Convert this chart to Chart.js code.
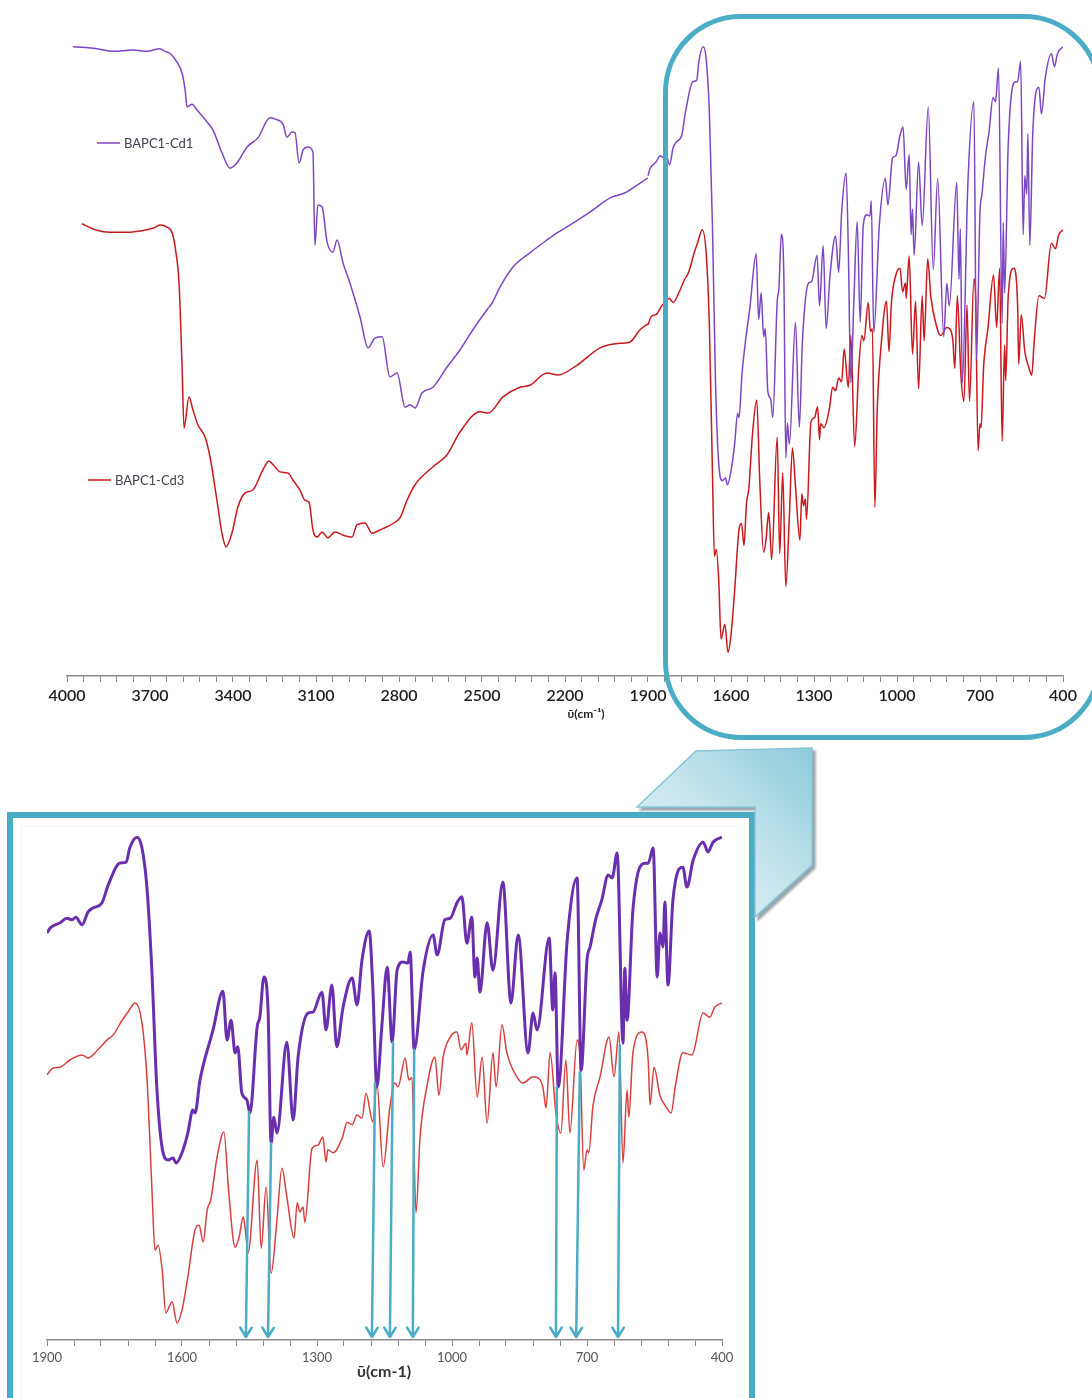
<!DOCTYPE html>
<html>
<head>
<meta charset="utf-8">
<title>FT-IR BAPC1-Cd1 / BAPC1-Cd3</title>
<script src="https://cdn.jsdelivr.net/npm/chart.js@4.4.1/dist/chart.umd.min.js"></script>
<style>
  html, body { margin: 0; padding: 0; background: #fff; }
  body { width: 1092px; height: 1398px; position: relative; overflow: hidden; }
  #fullCanvas { position: absolute; left: 0; top: 0; }
  #zoomCanvas { position: absolute; left: 0; top: 800px; }
  .ring {
    position: absolute; left: 663px; top: 14px; width: 439px; height: 726px;
    box-sizing: border-box; border: 5px solid #4bacc6; border-radius: 78px;
  }
  .frame {
    position: absolute; left: 7px; top: 812px; width: 748px; height: 640px;
    box-sizing: border-box; border: 6px solid #4bacc6;
  }
  .frame .inner {
    position: absolute; left: 8px; top: 8px; right: 8px; bottom: 8px;
    border: 1px solid rgba(0, 0, 0, 0.04);
  }
  svg.callout { position: absolute; left: 0; top: 0; pointer-events: none; }
</style>
</head>
<body>
<canvas id="fullCanvas" width="1092" height="740"></canvas>
<canvas id="zoomCanvas" width="760" height="598"></canvas>
<div class="ring"></div>
<div class="frame"><div class="inner"></div></div>
<svg class="callout" width="1092" height="1398">
  <defs>
    <linearGradient id="calloutFill" x1="0" y1="1" x2="1" y2="0">
      <stop offset="0" stop-color="#eef7fa"/>
      <stop offset="0.55" stop-color="#c4e4ed"/>
      <stop offset="1" stop-color="#8ecadb"/>
    </linearGradient>
    <filter id="calloutShadow" x="-10%" y="-10%" width="130%" height="130%">
      <feDropShadow dx="3" dy="3" stdDeviation="1" flood-color="#7f8f96" flood-opacity="0.8"/>
    </filter>
  </defs>
  <polygon points="637,807 696,751 812,748 812,865 755,917 755,807"
           fill="url(#calloutFill)" stroke="#86c6d6" stroke-width="1.5" filter="url(#calloutShadow)"/>
</svg>

<script>
// series names
const seriesNames = ['BAPC1-Cd1', 'BAPC1-Cd3'];

// axis labels (cm-1)
const fullTickLabels = [4000, 3700, 3400, 3100, 2800, 2500, 2200, 1900, 1600, 1300, 1000, 700, 400];
const zoomTickLabels = [1900, 1600, 1300, 1000, 700, 400];

// 4000-1900 cm-1 part of the full spectra, [wavenumber, %T]
const cd1High = [
  [3978, 97.4], [3892, 97.1], [3834, 96.7], [3761, 96.9], [3711, 96.7], [3664, 97.1], [3646, 96.7],
  [3628, 96.4], [3602, 95.0], [3584, 93.3], [3573, 90.7], [3566, 88.1], [3548, 88.5], [3530, 87.6],
  [3494, 85.8], [3472, 84.5], [3440, 81.0], [3411, 78.6], [3386, 79.4], [3349, 81.9], [3310, 83.3],
  [3266, 86.4], [3248, 86.2], [3219, 85.4], [3205, 83.4], [3187, 84.2], [3176, 84.1], [3161, 79.4],
  [3147, 81.4], [3129, 81.9], [3111, 81.1], [3104, 66.7], [3093, 72.9], [3078, 72.6], [3060, 67.2],
  [3039, 65.6], [3024, 67.5], [3002, 63.9], [2977, 60.8], [2941, 55.6], [2912, 50.8], [2887, 52.3],
  [2861, 52.5], [2833, 46.3], [2807, 46.9], [2778, 41.6], [2760, 42.0], [2742, 41.5], [2717, 43.8],
  [2677, 44.7], [2627, 47.8], [2579, 50.5], [2533, 53.6], [2482, 56.7], [2464, 57.7], [2435, 60.2],
  [2388, 63.3], [2327, 65.5], [2265, 67.5], [2229, 68.6], [2171, 70.1], [2110, 71.8], [2037, 74.0],
  [1983, 74.8], [1929, 76.3], [1900, 77.1]
];
const cd3High = [
  [3946, 70.0], [3892, 69.0], [3845, 68.7], [3783, 68.7], [3736, 68.9], [3689, 69.3], [3664, 69.8],
  [3639, 69.5], [3620, 68.6], [3606, 65.5], [3595, 60.8], [3584, 47.8], [3577, 38.4], [3559, 43.2],
  [3545, 41.2], [3527, 38.9], [3501, 37.0], [3483, 33.9], [3458, 27.2], [3440, 22.1], [3425, 20.0],
  [3404, 22.1], [3382, 26.2], [3357, 28.3], [3328, 28.8], [3292, 31.9], [3270, 33.3], [3255, 32.7],
  [3230, 31.6], [3201, 31.4], [3183, 30.3], [3158, 28.8], [3140, 27.2], [3125, 26.9], [3111, 22.6],
  [3096, 21.5], [3078, 22.3], [3057, 21.4], [3031, 22.3], [3002, 21.8], [2970, 21.5], [2952, 23.4],
  [2923, 23.7], [2898, 22.1], [2869, 22.6], [2843, 23.1], [2814, 23.8], [2796, 24.5], [2771, 27.2],
  [2742, 29.6], [2677, 32.4], [2627, 34.2], [2579, 37.8], [2507, 40.9], [2478, 40.7], [2424, 43.2],
  [2363, 44.7], [2327, 45.0], [2265, 46.9], [2225, 46.6], [2157, 48.1], [2073, 50.8], [2001, 51.5],
  [1965, 51.7], [1929, 53.6], [1900, 54.5]
];

// 1900-400 cm-1 fingerprint region, [wavenumber, %T]
const cd1Fp = [
  [1900, 79.8], [1893, 80.8], [1871, 81.8], [1856, 82.7], [1844, 82.4], [1836, 82.9], [1822, 81.4],
  [1809, 83.9], [1798, 84.7], [1778, 85.7], [1764, 89.2], [1738, 93.5], [1724, 93.7], [1716, 96.5],
  [1700, 98.6], [1689, 96.5], [1678, 88.8], [1667, 72.5], [1656, 49.6], [1642, 36.7], [1631, 35.3],
  [1620, 35.7], [1613, 34.7], [1600, 36.7], [1587, 40.6], [1576, 45.1], [1571, 44.5], [1560, 51.0],
  [1531, 60.8], [1509, 68.4], [1500, 58.8], [1491, 62.7], [1482, 56.3], [1476, 57.5], [1467, 48.4],
  [1456, 47.1], [1449, 44.5], [1433, 61.4], [1427, 63.3], [1418, 71.2], [1409, 65.3], [1402, 38.6],
  [1396, 43.7], [1389, 40.6], [1367, 58.4], [1353, 43.1], [1342, 55.5], [1320, 64.1], [1309, 64.3],
  [1289, 68.2], [1280, 60.8], [1267, 69.6], [1256, 57.5], [1242, 65.3], [1222, 71.0], [1211, 65.7],
  [1200, 74.5], [1184, 80.2], [1176, 69.2], [1167, 49.6], [1156, 61.4], [1144, 73.1], [1133, 58.4],
  [1122, 72.5], [1109, 74.1], [1098, 73.9], [1093, 76.1], [1084, 56.9], [1064, 72.5], [1042, 79.4],
  [1033, 75.5], [1016, 82.4], [1004, 82.7], [989, 85.7], [978, 86.9], [967, 77.8], [956, 82.9],
  [949, 71.2], [944, 74.9], [938, 68.2], [922, 81.8], [909, 72.5], [887, 89.8], [869, 66.1],
  [853, 79.4], [831, 56.3], [820, 64.1], [811, 60.8], [784, 78.8], [776, 64.7], [771, 72.0],
  [764, 49.6], [744, 78.4], [722, 90.6], [713, 52.9], [700, 74.5], [693, 77.1], [680, 82.7],
  [667, 86.3], [653, 91.2], [644, 90.6], [633, 95.5], [620, 58.2], [616, 72.9], [611, 62.7],
  [598, 84.3], [571, 93.5], [564, 93.5], [553, 96.5], [544, 71.2], [538, 79.8], [531, 77.1],
  [527, 85.9], [520, 69.6], [509, 86.3], [487, 92.7], [478, 88.8], [464, 94.1], [442, 97.6],
  [431, 95.7], [420, 97.6], [400, 98.6]
];
const cd3Fp = [
  [1900, 52.0], [1887, 53.3], [1871, 53.5], [1849, 54.9], [1822, 55.9], [1809, 55.3], [1787, 56.9],
  [1767, 58.8], [1753, 59.8], [1733, 62.7], [1720, 64.3], [1704, 66.1], [1689, 62.2], [1678, 51.6],
  [1667, 30.0], [1660, 17.6], [1653, 18.6], [1644, 13.7], [1636, 5.3], [1622, 7.5], [1611, 3.3],
  [1600, 5.9], [1587, 12.4], [1571, 21.6], [1562, 22.5], [1553, 19.2], [1544, 25.5], [1536, 27.5],
  [1522, 35.9], [1507, 40.8], [1496, 28.8], [1482, 18.2], [1473, 20.2], [1464, 24.1], [1460, 22.2],
  [1453, 17.1], [1433, 35.3], [1424, 18.0], [1413, 30.0], [1402, 13.1], [1389, 23.5], [1378, 33.7],
  [1367, 28.0], [1351, 20.0], [1344, 26.9], [1338, 25.1], [1331, 26.1], [1327, 23.1], [1311, 37.6],
  [1298, 38.2], [1287, 39.8], [1280, 34.9], [1276, 37.3], [1264, 36.7], [1244, 39.6], [1233, 42.7],
  [1222, 42.2], [1211, 44.1], [1200, 43.5], [1191, 48.4], [1176, 42.7], [1167, 50.4], [1153, 33.9],
  [1138, 45.7], [1127, 50.4], [1120, 49.6], [1104, 55.3], [1096, 51.0], [1089, 51.4], [1080, 24.9],
  [1071, 39.8], [1056, 49.6], [1038, 55.5], [1029, 48.0], [1020, 55.3], [1004, 59.4], [989, 60.4],
  [980, 56.9], [969, 58.2], [967, 55.9], [956, 62.2], [944, 47.6], [933, 55.5], [922, 42.5],
  [909, 56.3], [902, 49.6], [889, 61.8], [878, 56.3], [856, 51.6], [842, 50.4], [820, 51.6],
  [804, 51.0], [798, 49.6], [791, 45.5], [782, 56.3], [769, 44.5], [758, 40.6], [747, 54.9],
  [738, 40.6], [722, 58.8], [716, 56.3], [707, 33.3], [700, 37.3], [696, 36.7], [687, 45.7],
  [671, 51.6], [651, 59.4], [640, 51.6], [629, 60.4], [620, 34.7], [611, 49.0], [607, 43.7],
  [598, 56.3], [578, 60.4], [564, 54.9], [560, 46.1], [551, 53.5], [538, 48.0], [524, 45.7],
  [513, 44.5], [504, 49.6], [487, 56.3], [467, 55.9], [442, 64.1], [427, 63.3], [416, 65.3],
  [400, 66.1]
];

// marked bands: arrow starts on the Cd1 trace and points down to the axis
const bandFromWave = [1451, 1402, 1171, 1131, 1084, 767, 716, 627];
const bandFromT    = [44.7, 38.6, 50.4, 58.4, 56.9, 49.6, 52.5, 57.8];
const bandTipWave  = [1458, 1409, 1178, 1138, 1087, 769, 724, 631];

const PURPLE = '#7d46c3';
const RED = '#c8191e';
const PURPLE_DARK = '#6a2fae';
const RED_LIGHT = '#d8403f';
const TEAL = '#4bacc6';
const FONT = "Lato, 'DejaVu Sans', sans-serif";

const toXY = pts => pts.map(([x, y]) => ({ x, y }));

// tick marks every 60 cm-1, labels only on the 300 cm-1 steps
const tickStep = 60;
function tickMarks(lo, hi) {
  const out = [];
  for (let v = lo; v <= hi; v += tickStep) out.push({ value: v });
  return out;
}

function wavenumberAxis(lo, hi, labels, labelFont, labelColor, axisHeight, labelPad) {
  return {
    type: 'linear', reverse: true, min: lo, max: hi,
    afterBuildTicks: s => { s.ticks = tickMarks(lo, hi); },
    afterFit: s => { s.height = axisHeight; },
    grid: { drawOnChartArea: false, drawTicks: true, tickLength: 6, color: '#8c8c8c', lineWidth: 1 },
    border: { display: true, color: '#8c8c8c', width: 1.5 },
    ticks: {
      autoSkip: false, maxRotation: 0, minRotation: 0, padding: labelPad,
      color: labelColor, font: labelFont,
      callback: v => labels.includes(v) ? String(v) : ''
    }
  };
}

// free text drawn in canvas coordinates (axis captions)
const captions = {
  id: 'captions',
  afterDraw(chart, args, opts) {
    const ctx = chart.ctx;
    ctx.save();
    ctx.textAlign = 'center';
    ctx.textBaseline = 'middle';
    (opts.items || []).forEach(it => {
      ctx.font = it.font;
      ctx.fillStyle = it.color;
      ctx.fillText(it.text, it.x, it.y);
    });
    ctx.restore();
  }
};

// series key placed beside each trace
const seriesKey = {
  id: 'seriesKey',
  afterDraw(chart, args, opts) {
    const ctx = chart.ctx;
    ctx.save();
    ctx.font = opts.font;
    ctx.textBaseline = 'middle';
    ctx.textAlign = 'left';
    (opts.items || []).forEach(it => {
      const ds = chart.data.datasets[it.dataset];
      ctx.strokeStyle = ds.borderColor;
      ctx.lineWidth = 1.5;
      ctx.beginPath();
      ctx.moveTo(it.x, it.y);
      ctx.lineTo(it.x + 23, it.y);
      ctx.stroke();
      ctx.fillStyle = opts.color;
      ctx.fillText(ds.label, it.x + 27, it.y + 0.5);
    });
    ctx.restore();
  }
};

// arrows for the assigned bands
const bandArrows = {
  id: 'bandArrows',
  afterDatasetsDraw(chart, args, opts) {
    const { ctx, scales: { x, y } } = chart;
    ctx.save();
    ctx.strokeStyle = opts.color;
    ctx.lineWidth = 2.5;
    ctx.lineCap = 'round';
    ctx.lineJoin = 'round';
    bandTipWave.forEach((w, i) => {
      const x0 = x.getPixelForValue(bandFromWave[i]);
      const y0 = y.getPixelForValue(bandFromT[i]);
      const x1 = x.getPixelForValue(w);
      const y1 = y.getPixelForValue(0) - 3;
      const a = Math.atan2(y1 - y0, x1 - x0);
      const len = 11, spread = 0.55;
      ctx.beginPath();
      ctx.moveTo(x0, y0);
      ctx.lineTo(x1, y1);
      ctx.moveTo(x1 - len * Math.cos(a - spread), y1 - len * Math.sin(a - spread));
      ctx.lineTo(x1, y1);
      ctx.lineTo(x1 - len * Math.cos(a + spread), y1 - len * Math.sin(a + spread));
      ctx.stroke();
    });
    ctx.restore();
  }
};

const lineStyle = (color, width) => ({
  borderColor: color, borderWidth: width, pointRadius: 0, fill: false,
  cubicInterpolationMode: 'monotone'
});

// full range spectra, 4000-400 cm-1
new Chart(document.getElementById('fullCanvas'), {
  type: 'line',
  data: {
    datasets: [
      { label: seriesNames[0], data: toXY(cd1High), yAxisID: 'y', ...lineStyle(PURPLE, 1.5) },
      { label: seriesNames[0], data: toXY(cd1Fp), yAxisID: 'yCd1', ...lineStyle(PURPLE, 1.5) },
      { label: seriesNames[1], data: toXY(cd3High), yAxisID: 'y', ...lineStyle(RED, 1.5) },
      { label: seriesNames[1], data: toXY(cd3Fp), yAxisID: 'yCd3', ...lineStyle(RED, 1.5) }
    ]
  },
  options: {
    responsive: false,
    animation: false,
    devicePixelRatio: 1,
    parsing: false,
    layout: { padding: { left: 67, right: 29, top: 30, bottom: 4 } },
    scales: {
      x: wavenumberAxis(400, 4000, fullTickLabels, { family: FONT, size: 16, weight: '600' }, '#1e1e1e', 60, 4),
      y: { display: false, min: 0, max: 100 },
      yCd1: { display: false, min: 6.8, max: 101.05 },
      yCd3: { display: false, min: -0.2, max: 95.8 }
    },
    plugins: {
      legend: { display: false },
      tooltip: { enabled: false },
      captions: {
        items: [{ text: 'ῡ(cm⁻¹)', x: 586, y: 714, font: `bold 12px ${FONT}`, color: '#222' }]
      },
      seriesKey: {
        font: `13px ${FONT}`, color: '#3f4250',
        items: [{ dataset: 0, x: 97, y: 143 }, { dataset: 2, x: 88, y: 480 }]
      }
    }
  },
  plugins: [captions, seriesKey]
});

// fingerprint region, 1900-400 cm-1
new Chart(document.getElementById('zoomCanvas'), {
  type: 'line',
  data: {
    datasets: [
      { label: seriesNames[0], data: toXY(cd1Fp), ...lineStyle(PURPLE_DARK, 3) },
      { label: seriesNames[1], data: toXY(cd3Fp), ...lineStyle(RED_LIGHT, 1.5) }
    ]
  },
  options: {
    responsive: false,
    animation: false,
    devicePixelRatio: 1,
    parsing: false,
    layout: { padding: { left: 47, right: 38, top: 30, bottom: 0 } },
    scales: {
      x: wavenumberAxis(400, 1900, zoomTickLabels, { family: FONT, size: 13 }, '#555', 58, 4),
      y: { display: false, min: 0, max: 100 }
    },
    plugins: {
      legend: { display: false },
      tooltip: { enabled: false },
      captions: {
        items: [{ text: 'ῡ(cm-1)', x: 384, y: 572, font: `bold 16px ${FONT}`, color: '#333' }]
      },
      bandArrows: { color: TEAL }
    }
  },
  plugins: [bandArrows, captions]
});
</script>
</body>
</html>
